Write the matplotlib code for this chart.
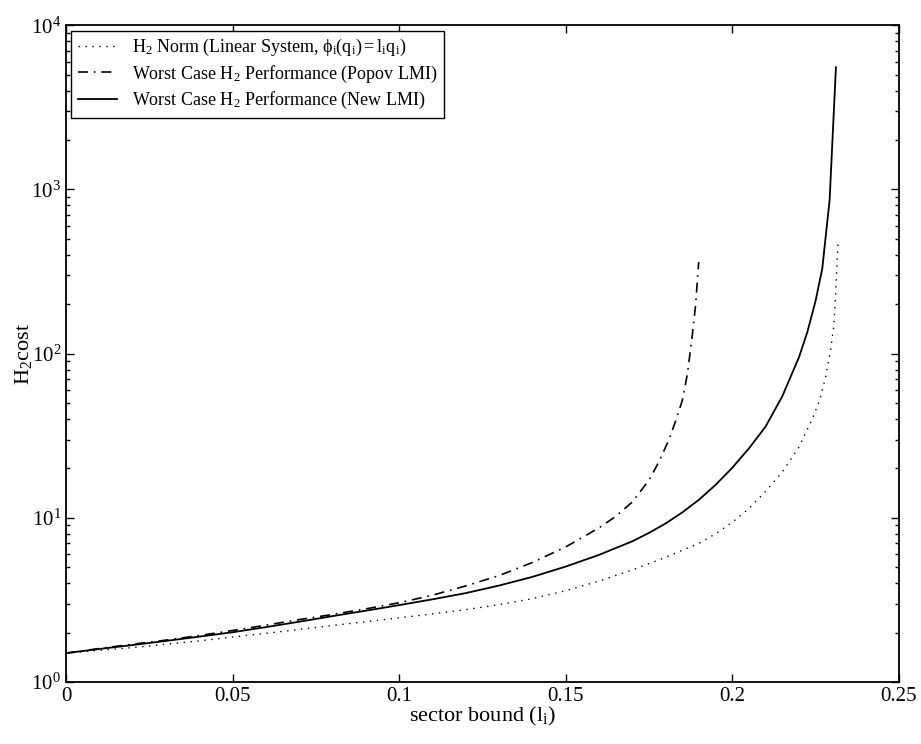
import numpy as np
import matplotlib
matplotlib.use("Agg")
import matplotlib.pyplot as plt

# values (sector bound vs H2 cost)
x_lin = [0.0, 0.01, 0.02, 0.03, 0.04, 0.05, 0.06, 0.07, 0.08, 0.09, 0.10,
         0.11, 0.12, 0.13, 0.14, 0.15, 0.16, 0.17, 0.18, 0.19, 0.195, 0.20,
         0.205, 0.21, 0.215, 0.22, 0.224, 0.2262, 0.228, 0.2295, 0.2305,
         0.231, 0.2317]
y_lin = [1.50, 1.56, 1.62, 1.70, 1.78, 1.88, 1.98, 2.09, 2.21, 2.33, 2.46,
         2.60, 2.76, 2.96, 3.22, 3.60, 4.12, 4.82, 5.75, 7.0, 8.0, 9.4,
         11.4, 14.5, 19.0, 27.0, 40.0, 52.0, 72.0, 105.0, 150.0,
         230.0, 471.0]

x_popov = [0.0, 0.01, 0.02, 0.03, 0.04, 0.05, 0.06, 0.07, 0.08, 0.09, 0.10,
           0.11, 0.12, 0.13, 0.14, 0.15, 0.155, 0.16, 0.165, 0.17, 0.175,
           0.178, 0.181, 0.183, 0.185, 0.1865, 0.188, 0.189, 0.1899]
y_popov = [1.50, 1.60, 1.70, 1.80, 1.92, 2.06, 2.22, 2.40, 2.58, 2.79, 3.04,
           3.38, 3.85, 4.45, 5.35, 6.65, 7.6, 8.7, 10.2, 12.5, 17.0,
           22.0, 30.0, 39.0, 52.0, 75.0, 130.0, 200.0, 361.0]

x_new = [0.0, 0.01, 0.02, 0.03, 0.04, 0.05, 0.06, 0.07, 0.08, 0.09, 0.10,
         0.11, 0.12, 0.13, 0.14, 0.15, 0.16, 0.17, 0.175, 0.18, 0.185, 0.19,
         0.195, 0.20, 0.205, 0.21, 0.215, 0.22, 0.2225, 0.225, 0.227, 0.2292,
         0.2311]
y_new = [1.50, 1.59, 1.68, 1.78, 1.89, 2.01, 2.16, 2.33, 2.52, 2.72, 2.94,
         3.19, 3.48, 3.87, 4.37, 5.05, 5.95, 7.2, 8.1, 9.25, 10.8, 12.9,
         15.9, 20.2, 26.5, 36.0, 55.0, 95.0, 135.0, 210.0, 330.0, 860.0,
         5550.0]

labels = [r"H$_2$ Norm (Linear System, $\mathrm{\phi_i(q_i)=l_iq_i}$)",
          r"Worst Case H$_2$ Performance (Popov LMI)",
          r"Worst Case H$_2$ Performance (New LMI)"]

plt.rcParams["font.family"] = "Liberation Serif"
plt.rcParams["mathtext.fontset"] = "custom"
plt.rcParams["mathtext.rm"] = "Liberation Serif"
plt.rcParams["mathtext.it"] = "Liberation Serif"
plt.rcParams["font.size"] = 13

fig = plt.figure(figsize=(9.21, 7.44), dpi=100)
ax = fig.add_axes([0.0717, 0.0833, 0.9043, 0.8827])

ax.plot(x_lin, y_lin, color="black", lw=1.0, linestyle=(0, (1, 4)), label=labels[0])
ax.plot(x_popov, y_popov, color="black", lw=1.2, linestyle=(0, (6, 3.5, 1, 3.5)), label=labels[1])
ax.plot(x_new, y_new, color="black", lw=1.3, linestyle="-", label=labels[2])

ax.set_yscale("log")
ax.set_xlim(0, 0.25)
ax.set_ylim(1, 1e4)
ax.set_xticks([0, 0.05, 0.1, 0.15, 0.2, 0.25])
ax.set_xticklabels(["0", "0.05", "0.1", "0.15", "0.2", "0.25"])

ax.tick_params(which="both", direction="in", top=True, right=True, labelsize=15)
ax.tick_params(which="major", length=6, width=1)
ax.tick_params(which="minor", length=3, width=1)
for s in ax.spines.values():
    s.set_linewidth(1.3)

ax.set_xlabel(r"sector bound (l$_i$)", fontsize=16, labelpad=-1)
ax.set_ylabel(r"H$_2$cost", fontsize=16, labelpad=-2)

leg = ax.legend(loc="upper left", fontsize=13, fancybox=False, edgecolor="black",
                framealpha=1, borderaxespad=0.3, handlelength=2.2,
                borderpad=0.35, labelspacing=0.3)
leg.get_frame().set_linewidth(1.0)

fig.savefig("out.png", dpi=100)
